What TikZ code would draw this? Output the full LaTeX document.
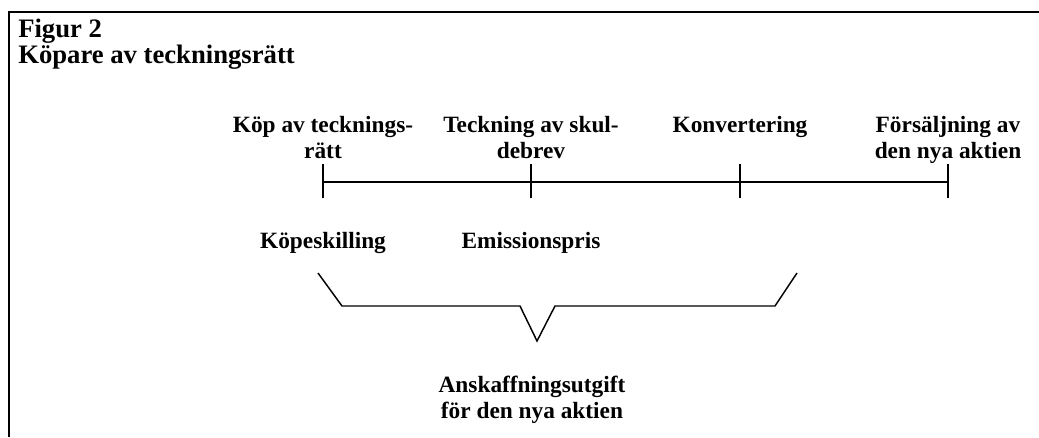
\documentclass[tikz,border=0pt]{standalone}
\usepackage{fontspec}
\setmainfont{Liberation Serif}
\usepackage{tikz}
\newcommand{\drawthick}{\draw[line width=1.9pt]}
\newcommand{\drawmid}{\draw[line width=1.5pt]}
\newcommand{\drawthin}{\draw[line width=1.1pt]}
\newcommand{\tidpunkt}[3]{
    \drawmid (#2,164)--(#2,198);
    \node[etikett,anchor=north] (#1) at (#2,116) {#3};
}
\tikzset{
  etikett/.style={inner sep=0pt,align=center,font=\bfseries\fontsize{17.5}{19.5}\selectfont},
  rubrik/.style={inner sep=0pt,align=left,font=\bfseries\fontsize{20}{17}\selectfont}
}

\begin{document}
\begin{tikzpicture}[x=0.75pt,y=-0.75pt]
\useasboundingbox (0,0) rectangle (1039,437);
\drawthick (9,437)--(9,12)--(1039,12);
\node[rubrik,anchor=north west] (titel) at (18,19) {Figur 2\\Köpare av teckningsrätt};
\drawmid (323,182)--(948,182);
\tidpunkt{kop}{323}{Köp av tecknings-\\rätt}
\tidpunkt{teck}{531}{Teckning av skul-\\debrev}
\tidpunkt{konv}{740}{Konvertering}
\tidpunkt{fors}{948}{Försäljning av\\den nya aktien}
\node[etikett,anchor=base] (kopesk) at (323,248) {Köpeskilling};
\node[etikett,anchor=base] (emis) at (531,248) {Emissionspris};
\drawthin (318,273)--(342,306)--(520,306)--(537,341)--(555,306)--(775,306)--(797,273);
\node[etikett,anchor=north] (anskaff) at (532,376) {Anskaffningsutgift\\för den nya aktien};
\end{tikzpicture}
\end{document}
